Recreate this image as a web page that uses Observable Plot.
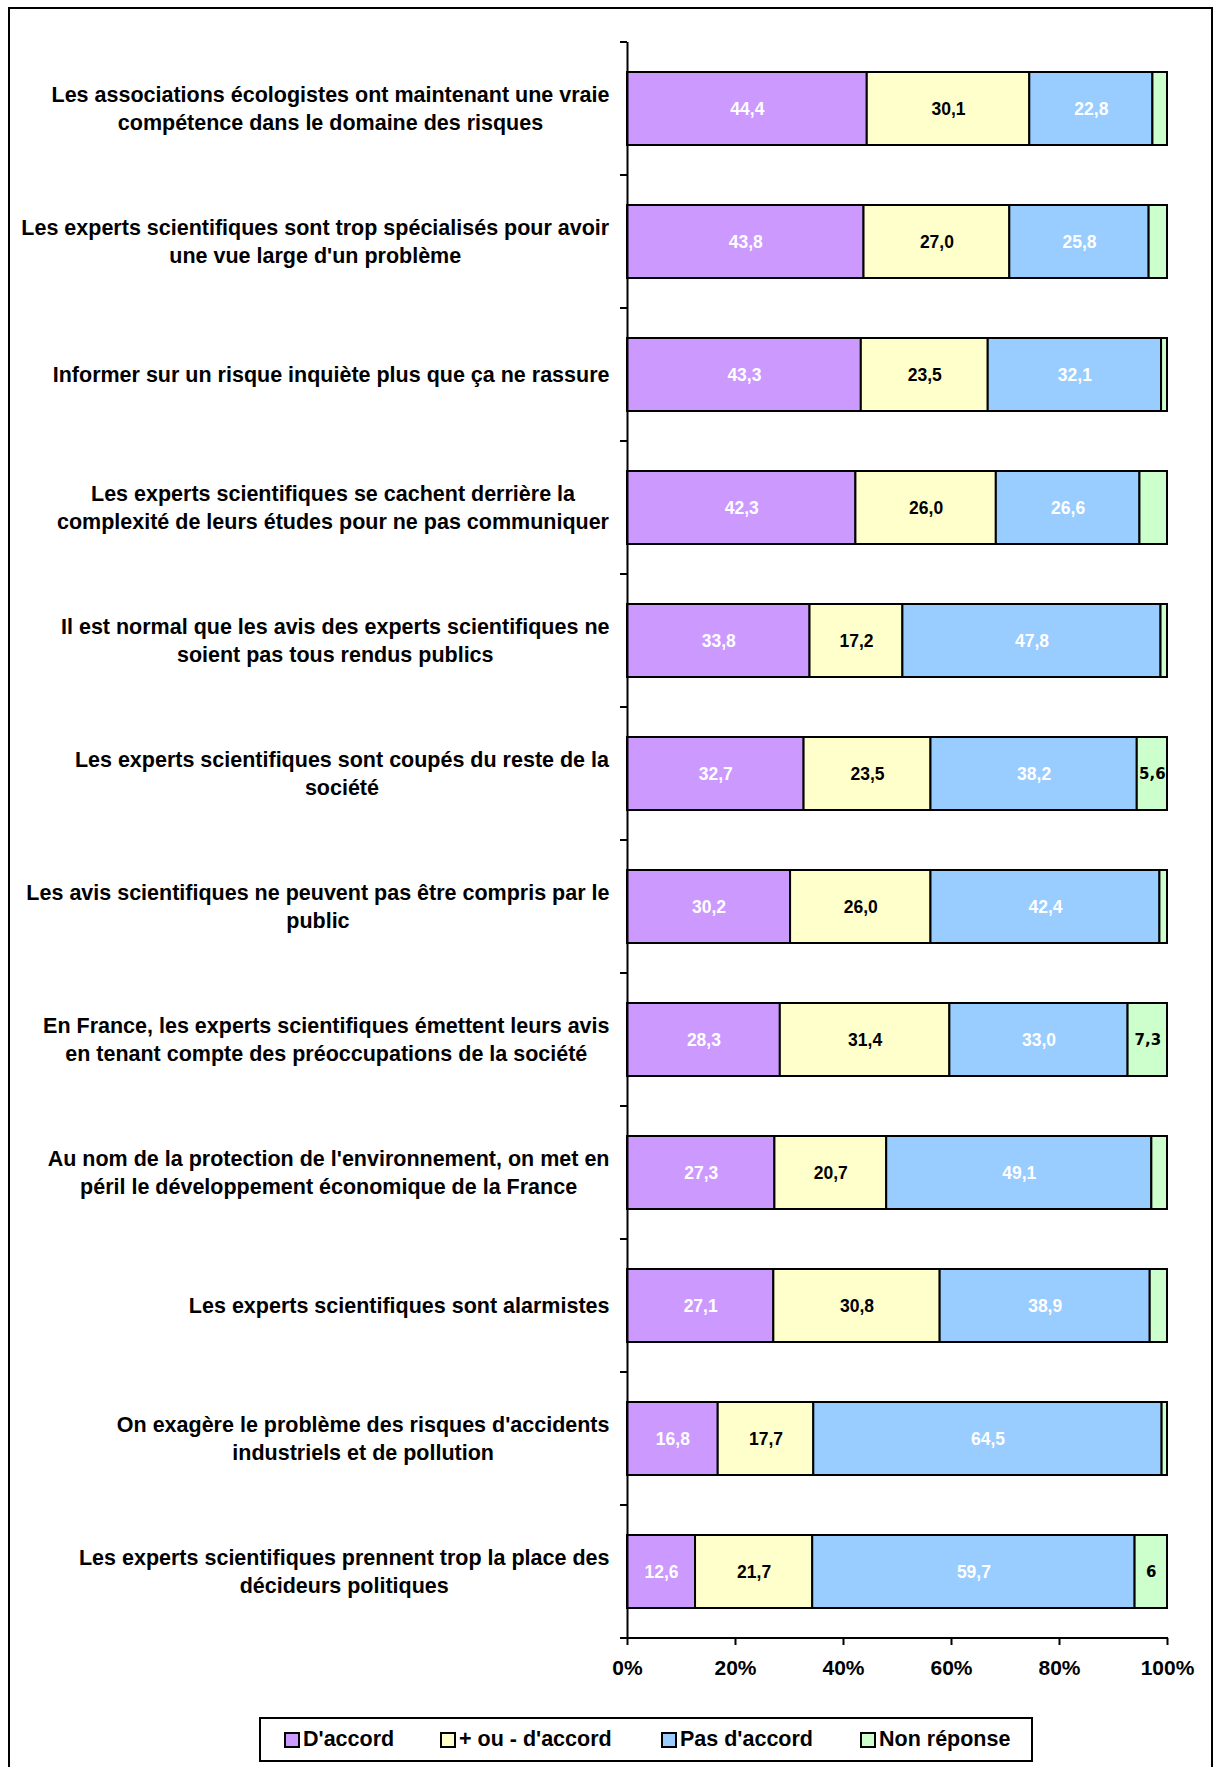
<!DOCTYPE html>
<html>
<head>
<meta charset="utf-8">
<script src="https://cdn.jsdelivr.net/npm/d3@7"></script>
<script src="https://cdn.jsdelivr.net/npm/@observablehq/plot@0.6"></script>
<style>
  html, body { margin: 0; padding: 0; background: #fff; }
  body { width: 1219px; height: 1767px; position: relative; overflow: hidden; font-family: "Liberation Sans", Arial, sans-serif; }
  #border { position: absolute; left: 8px; top: 7px; width: 1201px; height: 1800px; border: 2.5px solid #000; }
  #chart { position: absolute; left: 0; top: 0; }
  #legend { position: absolute; left: 259px; top: 1717px; width: 770px; height: 41px; border: 2px solid #000; background: #fff;
            font-weight: bold; font-size: 21.5px; color: #000; }
  .item { position: absolute; top: 0; height: 41px; display: flex; align-items: center; white-space: nowrap; }
  .sw { width: 12px; height: 12px; border: 2px solid #000; margin-right: 3px; }
</style>
</head>
<body>
<div id="border"></div>
<div id="chart"></div>
<div id="legend"></div>
<script>
const categories = [
  "Les associations écologistes ont maintenant une vraie\ncompétence dans le domaine des risques",
  "Les experts scientifiques sont trop spécialisés pour avoir\nune vue large d'un problème",
  "Informer sur un risque inquiète plus que ça ne rassure",
  "Les experts scientifiques se cachent derrière la\ncomplexité de leurs études pour ne pas communiquer",
  "Il est normal que les avis des experts scientifiques ne\nsoient pas tous rendus publics",
  "Les experts scientifiques sont coupés du reste de la\nsociété",
  "Les avis scientifiques ne peuvent pas être compris par le\npublic",
  "En France, les experts scientifiques émettent leurs avis\nen tenant compte des préoccupations de la société",
  "Au nom de la protection de l'environnement, on met en\npéril le développement économique de la France",
  "Les experts scientifiques sont alarmistes",
  "On exagère le problème des risques d'accidents\nindustriels et de pollution",
  "Les experts scientifiques prennent trop la place des\ndécideurs politiques"
];
const seriesNames = ["D'accord", "+ ou - d'accord", "Pas d'accord", "Non réponse"];
const seriesColors = ["#CC99FF", "#FFFFCC", "#99CCFF", "#CCFFCC"];
const daccord      = [44.4, 43.8, 43.3, 42.3, 33.8, 32.7, 30.2, 28.3, 27.3, 27.1, 16.8, 12.6];
const plusOuMoins  = [30.1, 27.0, 23.5, 26.0, 17.2, 23.5, 26.0, 31.4, 20.7, 30.8, 17.7, 21.7];
const pasDaccord   = [22.8, 25.8, 32.1, 26.6, 47.8, 38.2, 42.4, 33.0, 49.1, 38.9, 64.5, 59.7];
const nonReponse   = [2.7, 3.4, 1.1, 5.1, 1.2, 5.6, 1.4, 7.3, 2.9, 3.2, 1.0, 6.0];
const nonReponseLabels = [null, null, null, null, null, "5,6", null, "7,3", null, null, null, "6"];
const xTicks = [0, 20, 40, 60, 80, 100];

const fmt = v => v.toFixed(1).replace(".", ",");
const seriesValues = [daccord, plusOuMoins, pasDaccord, nonReponse];
const data = [];
categories.forEach((cat, i) => {
  seriesNames.forEach((s, k) => {
    const label = k === 3 ? nonReponseLabels[i] : fmt(seriesValues[k][i]);
    data.push({cat, series: s, k, value: seriesValues[k][i], label});
  });
});

const W = 1219, H = 1700, mt = 42, mb = H - 1638, ml = 627, mr = W - 1167;

const plot = Plot.plot({
  width: W, height: H,
  marginTop: mt, marginBottom: mb, marginLeft: ml, marginRight: mr,
  style: {fontFamily: "'Liberation Sans', Arial, sans-serif", background: "transparent", overflow: "visible"},
  x: {domain: [0, 100], axis: null},
  y: {domain: categories, paddingInner: 0.45, paddingOuter: 0.225, axis: null},
  color: {domain: seriesNames, range: seriesColors},
  marks: [
    Plot.barX(data, Plot.stackX({x: "value", y: "cat", fill: "series", order: seriesNames, stroke: "#000", strokeWidth: 2})),
    Plot.text(data, Plot.stackX({
      x: "value", y: "cat", z: "series", order: seriesNames,
      text: d => (d.k === 0 || d.k === 2) ? d.label : null,
      fill: "#fff", fontSize: 17.5, fontWeight: "bold"
    })),
    Plot.text(data, Plot.stackX({
      x: "value", y: "cat", z: "series", order: seriesNames,
      text: d => d.k === 1 ? d.label : null,
      fill: "#000", fontSize: 17.5, fontWeight: "bold"
    })),
    Plot.text(data, Plot.stackX({
      x: "value", y: "cat", z: "series", order: seriesNames,
      text: d => d.k === 3 ? d.label : null,
      fill: "#000", fontSize: 15, fontWeight: "bold", fontFamily: "'DejaVu Sans', Verdana, sans-serif"
    })),
    Plot.text(categories, {
      y: d => d, text: d => d, frameAnchor: "left", textAnchor: "end", dx: -18, dy: -2,
      lineAnchor: "middle", lineHeight: 1.32, fontSize: 21.5, fontWeight: "bold", fill: "#000"
    }),
    Plot.ruleX([0], {stroke: "#000", strokeWidth: 2}),
    Plot.axisX({ticks: xTicks, tickFormat: d => d + "%", tickSize: 7, tickPadding: 15,
      fontSize: 21, fontWeight: "bold", stroke: "#000", strokeWidth: 2, color: "#000", label: null})
  ]
});
document.getElementById("chart").appendChild(plot);

// Center the lines of each category label within its right-aligned block
const svg = d3.select(plot);
const catFlat = new Set(categories.map(c => c.replace("\n", "")));
svg.selectAll("text").each(function() {
  if (!catFlat.has(this.textContent)) return;
  const w = this.getBBox().width;
  const t = this.getAttribute("transform") || "";
  this.setAttribute("text-anchor", "middle");
  this.style.textAnchor = "middle";
  this.setAttribute("transform", (t + ` translate(${-w / 2},0)`).trim());
});

// Band-boundary ticks on the category axis and the horizontal axis line, via the plot scales
const ys = plot.scale("y"), xs = plot.scale("x");
const gap = (ys.step - ys.bandwidth) / 2;
const bounds = categories.map(c => ys.apply(c) - gap);
bounds.push(ys.apply(categories[categories.length - 1]) + ys.bandwidth + gap);
const g = svg.append("g").attr("stroke", "#000").attr("stroke-width", 2);
const x0 = xs.apply(0), x100 = xs.apply(100);
bounds.forEach(b => g.append("line").attr("x1", x0 - 7).attr("x2", x0).attr("y1", b).attr("y2", b));
const yb = bounds[bounds.length - 1];
g.append("line").attr("x1", x0 - 7).attr("x2", x100 + 1).attr("y1", yb).attr("y2", yb);

// Legend
const lx = [23, 179, 400, 599];
const legend = document.getElementById("legend");
seriesNames.forEach((s, i) => {
  const it = document.createElement("div");
  it.className = "item";
  it.style.left = lx[i] + "px";
  const sw = document.createElement("div");
  sw.className = "sw";
  sw.style.background = seriesColors[i];
  const tx = document.createElement("span");
  tx.textContent = s;
  it.appendChild(sw); it.appendChild(tx);
  legend.appendChild(it);
});
</script>
</body>
</html>
